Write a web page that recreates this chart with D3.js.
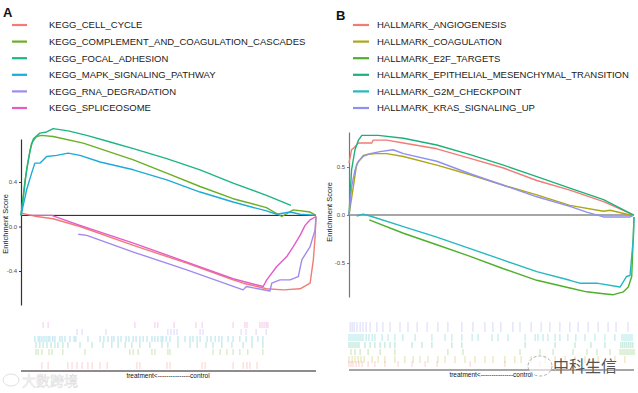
<!DOCTYPE html>
<html><head><meta charset="utf-8">
<script src="https://cdn.jsdelivr.net/npm/d3@7"></script>
<style>body{margin:0;background:#fff}svg{display:block;font-family:"Liberation Sans",Arial,sans-serif}</style>
</head><body>
<svg id="c" width="638" height="393"></svg>
<script>
// ---------------- DATA ----------------
// Panel A (KEGG) — running enrichment score: [rank %, ES]
const keggNames = ["KEGG_CELL_CYCLE","KEGG_COMPLEMENT_AND_COAGULATION_CASCADES","KEGG_FOCAL_ADHESION","KEGG_MAPK_SIGNALING_PATHWAY","KEGG_RNA_DEGRADATION","KEGG_SPLICEOSOME"];
const keggColors = ["#F07C75","#6AAF23","#1DB486","#1EAAD8","#A08AEE","#E45BC9"];
const cellCycleES = [[0,.12],[5.3,.09],[10.9,.07],[20,.0],[38.1,-.17],[56.2,-.33],[71.9,-.48],[75.3,-.51],[83.2,-.56],[88.9,-.57],[94.6,-.56],[98,-.51],[99.1,-.30],[99.7,-.09],[100,.09]];
const complementES = [[0,.10],[1.4,.42],[2.5,.60],[3.6,.75],[5.3,.81],[7,.82],[10.9,.81],[21.1,.75],[38.1,.60],[49.4,.48],[60.7,.36],[71.9,.25],[83.2,.17],[88.4,.09],[92.3,.15],[98,.13],[100,.10]];
const focalES = [[0,.10],[0.8,.27],[1.9,.51],[3.1,.69],[4.2,.79],[6.4,.84],[8.7,.85],[10.9,.88],[16,.86],[22.3,.82],[30.2,.76],[38.1,.70],[49.4,.61],[60.7,.51],[71.9,.39],[83.2,.28],[91.5,.19]];
const mapkES = [[0,.10],[1.9,.33],[3.6,.48],[4.7,.57],[6.4,.57],[8.7,.63],[12.1,.64],[16,.66],[20,.64],[26.8,.58],[38.1,.51],[49.4,.42],[60.7,.31],[71.9,.22],[83.2,.14],[86.7,.11],[91.2,.13],[94.6,.11],[100,.10]];
const rnaES = [[19.4,-.07],[22.3,-.08],[38.1,-.23],[56.2,-.39],[75.3,-.57],[76.4,-.54],[84.4,-.58],[85,-.51],[87.8,-.48],[91.2,-.48],[94,-.45],[95.2,-.30],[98,-.18],[99.7,-.03],[100,.09]];
const spliceES = [[3.1,.10],[10.4,.10],[20,.01],[38.1,-.15],[56.2,-.32],[71.9,-.47],[82.1,-.54],[83.3,-.48],[86.7,-.36],[90.1,-.27],[92.3,-.18],[94.6,-.08],[96.3,.01],[98,.06],[100,.09]];
const keggES = [cellCycleES, complementES, focalES, mapkES, rnaES, spliceES];
// hit positions (rank %)
const cellCycleHits = [7.1,9.2,15.9,17.3,19,20.7,22.7,24.1,26.8,29.2,39.3,40.3,49.5,50.5,61.4,62.4,71.9,75.3,76.6,77.6,80];
const complementHits = [5.1,5.8,7.1,9.5,10.5,14.2,21.7,36.9,38,39.7,44.4,45.4,49.8,50.5,65.1,67.5,69.8,71.9,74.2,76.9,82];
const focalHits = [5.1,6.4,7.5,8.8,10.2,11.5,12.5,14.2,15.9,20,24.1,27.8,30.8,32.9,35.3,37.6,40.3,43.7,47.8,49.8,53.2,57.3,59.7,62.7,65.1,68.1,71.5,75.3,78.3,82];
const mapkHits = [4.7,5.8,6.4,7.1,7.8,8.5,9.2,9.8,10.8,11.5,13.2,13.9,14.9,16.6,18,18.6,22.7,26.8,28.1,29.5,30.8,31.5,32.9,33.9,35.6,36.6,38,39,40.3,41.4,42.7,44.4,45.4,46.4,47.5,48.1,49.2,50.5,53.2,55.6,57.3,58.3,59.7,60.7,63.1,64.4,65.8,67.1,68.1,70.2,71.9,74.2,76.3,78.3,80.3,82];
const rnaHits = [19,20.7,28.8,49.8,50.8,51.9,52.9,60.7,61.7,74.6,76.3,79.7,83.1];
const spliceHits = [7.5,9.2,38.6,45.4,46.4,51.9,59.3,61.4,71.9,75.9,76.6,81,81.7,82.4,83.1,83.7];
const keggHits = [cellCycleHits, complementHits, focalHits, mapkHits, rnaHits, spliceHits];
const keggTicks = [-0.4, 0, 0.4];
const keggBaseline = 0.1;

// Panel B (HALLMARK)
const hallNames = ["HALLMARK_ANGIOGENESIS","HALLMARK_COAGULATION","HALLMARK_E2F_TARGETS","HALLMARK_EPITHELIAL_MESENCHYMAL_TRANSITION","HALLMARK_G2M_CHECKPOINT","HALLMARK_KRAS_SIGNALING_UP"];
const hallColors = ["#F07C75","#AFA51A","#4DAF2A","#1DB07A","#25B8C0","#8F90F0"];
const angioES = [[0,.54],[0.9,.68],[2.1,.71],[3.3,.75],[8,.75],[8.5,.78],[13.2,.78],[19.1,.75],[30.8,.69],[42.5,.59],[54.2,.49],[65.9,.36],[77.5,.26],[89.3,.14],[99.2,.01],[100,0]];
const coagES = [[0,0],[1.5,.29],[2.7,.53],[5,.62],[6.2,.63],[9.1,.64],[13.2,.64],[19.1,.61],[30.8,.52],[42.5,.42],[54.2,.31],[65.9,.21],[77.5,.10],[89.3,.04],[91.6,.05],[98.6,0],[100,0]];
const e2fES = [[7.1,-.05],[19.1,-.19],[30.8,-.31],[42.5,-.43],[54.2,-.56],[65.9,-.68],[77.5,-.76],[83.4,-.80],[89.3,-.82],[92.8,-.83],[96.3,-.80],[98,-.75],[99.2,-.64],[100,-.02]];
const emtES = [[0,0],[0.9,.47],[2.1,.68],[3.3,.78],[4.5,.83],[6.2,.83],[10.3,.83],[19.1,.80],[30.8,.73],[42.5,.63],[54.2,.52],[65.9,.40],[77.5,.28],[89.3,.16],[99.2,.01],[100,0]];
const g2mES = [[2.7,-.01],[5,.01],[7.4,-.01],[19.1,-.12],[30.8,-.23],[42.5,-.35],[54.2,-.47],[65.9,-.59],[77.5,-.68],[81,-.71],[86.9,-.71],[95.1,-.75],[97.4,-.64],[98.6,-.63],[99.8,-.23],[100,-.02]];
const krasES = [[0,0],[0.9,.29],[2.1,.47],[3.3,.56],[5,.61],[7.4,.64],[10.9,.66],[15.5,.68],[19.1,.64],[30.8,.56],[42.5,.43],[54.2,.31],[65.9,.19],[77.5,.09],[83.4,.03],[89.3,-.02],[92.8,-.02],[98.6,-.02],[100,0]];
const hallES = [angioES, coagES, e2fES, emtES, g2mES, krasES];
const angioHits = [0,0.7,1.4,2.5,3.5,4.6,6.7,9.1,12.6,17.2,22.1,26.7,30.9,42.5,54.7,67];
const coagHits = [0,1.1,2.1,3.2,4.2,5.3,8.1,10.2,12.6,16.1,19.6,22.5,24.9,27.7,31.2,33.7,37.2,40.7,44.2,47.7,50.5,54.7,58.2,60.4,63.9,68.8,72.3,75.8,79.3,82.8,87.4,93.3,96.8];
const e2fHits = [0.7,2.1,3.9,6.7,10.9,16.1,34.7,40,60,67,71.6,78.6,83.5,87,91.6,95.1,95.8,96.5,97.2,97.9,98.6,99.3,100];
const emtHits = [0,0.7,1.4,2.1,2.8,3.5,5.6,7.4,9.1,10.9,12.6,14.4,16.1,22.1,25.6,29.1,36.1,39.6,61.8,72.3,79.3,84.9,89.8,95.4,96.1,96.8,97.5,98.2,98.9,99.6];
const g2mHits = [0,0.7,1.4,2.1,2.8,3.5,4.2,4.9,6,7,8.1,9.1,11.6,13.7,16.1,18.9,23.2,29.1,33.7,36.1,39.6,43.2,45.3,50.2,52.3,55.8,61.8,65.3,66.3,68.1,69.8,72.3,74,76.8,79.6,82.8,86.3,89.8,93.3,95.8,96.5,97.2,97.9,98.6,99.3];
const krasHits = [0.4,1.1,1.8,2.8,3.9,4.9,6,7.4,9.8,11.9,14.4,17.9,20.7,23.9,27.4,31.2,34.7,39.6,43.5,47.7,50.5,53.3,57.5,60,63.9,67.4,70.5,74,77.5,80.4,83.9,87.4,90.9,93.7,97.9];
const hallHits = [angioHits, coagHits, e2fHits, emtHits, g2mHits, krasHits];
const hallTicks = [-0.5, 0, 0.5];
const hallBaseline = 0;

const xLabel = "treatment<---------------control";
const yLabel = "Enrichment Score";

// ---------------- DRAW ----------------
const svg = d3.select("#c");

function panel(o) {
  const g = svg.append("g");
  const x = d3.scaleLinear().domain([0,100]).range(o.xr);
  const y = d3.scaleLinear().domain(o.yd).range(o.yr);
  g.append("text").attr("x",o.letter[1]).attr("y",o.letter[2]).attr("font-size",13).attr("font-weight","bold").attr("fill","#111").text(o.letter[0]);
  const lg = g.append("g");
  o.names.forEach((n,i)=>{
    const cy = o.legY + i*16.6;
    lg.append("line").attr("x1",o.legX[0]).attr("x2",o.legX[1]).attr("y1",cy).attr("y2",cy).attr("stroke",o.colors[i]).attr("stroke-width",2.2);
    lg.append("text").attr("x",o.legX[2]).attr("y",cy+3.4).attr("font-size",9.5).attr("fill","#1a1a1a").text(n);
  });
  const ax = g.append("g").attr("transform",`translate(${o.xr[0]},0)`)
    .call(d3.axisLeft(y).tickValues(o.ticks).tickFormat(d=>d.toFixed(1)).tickSize(2).tickSizeOuter(0).tickPadding(2));
  ax.select(".domain").attr("stroke",o.axisColor).attr("stroke-width",1.2);
  ax.selectAll(".tick line").attr("stroke",o.axisColor);
  ax.selectAll(".tick text").attr("font-size",6).attr("fill","#4d4d4d").attr("font-family","Liberation Sans, Arial, sans-serif");
  g.append("text").attr("transform",`translate(${o.yTitle[0]},${o.yTitle[1]}) rotate(-90)`).attr("text-anchor","middle")
    .attr("font-size",7.5).attr("fill","#222").text(yLabel);
  g.append("line").attr("x1",x(0)).attr("x2",x(100)).attr("y1",y(o.base)).attr("y2",y(o.base))
    .attr("stroke",o.baseColor).attr("stroke-width",o.baseW);
  const line = d3.line().x(d=>x(d[0])).y(d=>y(d[1]));
  o.es.forEach((s,i)=>{
    g.append("path").attr("d",line(s)).attr("fill","none").attr("stroke",o.colors[i]).attr("stroke-width",1.4).attr("stroke-linejoin","round");
  });
  o.hits.forEach((h,i)=>{
    const r = o.rows[i];
    g.append("g").selectAll("line").data(h).join("line")
      .attr("x1",d=>x(d)).attr("x2",d=>x(d)).attr("y1",r[0]).attr("y2",r[0]+r[1])
      .attr("stroke",o.colors[i]).attr("stroke-opacity",0.5).attr("stroke-width",0.7);
  });
  g.append("line").attr("x1",x(0)).attr("x2",x(100)).attr("y1",o.bottomY).attr("y2",o.bottomY).attr("stroke",o.baseColor).attr("stroke-width",o.baseW);
  g.append("text").attr("x",o.xLab).attr("y",o.bottomY+7).attr("text-anchor","middle").attr("font-size",6.5).attr("fill","#111").text(xLabel);
  return g;
}

panel({letter:["A",3,17], names:keggNames, colors:keggColors, legX:[12,27,49], legY:25,
  xr:[21,316], yd:[-0.706,0.787], yr:[305,139], ticks:keggTicks, axisColor:"#333", yTitle:[8,224],
  base:keggBaseline, baseColor:"#1a1a1a", baseW:1, es:keggES, hits:keggHits,
  rows:[[362,7],[349,6],[342,6],[336,6],[329,6],[322,6]], bottomY:371, xLab:168});

panel({letter:["B",336,20], names:hallNames, colors:hallColors, legX:[353,369,377], legY:25,
  xr:[349,634], yd:[-0.854,0.865], yr:[297,132], ticks:hallTicks, axisColor:"#777", yTitle:[332,212],
  base:hallBaseline, baseColor:"#888", baseW:1.5, es:hallES, hits:hallHits,
  rows:[[361,6],[356,7],[349,6],[342,6],[334,7],[322,10]], bottomY:370, xLab:491});

// watermarks
svg.append("text").attr("x",22).attr("y",386).attr("font-size",14).attr("font-family","Noto Sans CJK SC")
  .attr("fill","#fff").attr("stroke","#dadada").attr("stroke-width",0.5).text("大数跨境");
svg.append("ellipse").attr("cx",11).attr("cy",380).attr("rx",8).attr("ry",6).attr("fill","none").attr("stroke","#e0e0e0").attr("stroke-width",1);
svg.append("ellipse").attr("cx",540).attr("cy",366).attr("rx",12).attr("ry",10).attr("fill","#fff").attr("fill-opacity",0.6).attr("stroke","#999").attr("stroke-width",0.8).attr("stroke-dasharray","3,2");
svg.append("text").attr("x",553).attr("y",372).attr("font-size",16).attr("font-family","Noto Sans CJK SC")
  .attr("fill","#555").attr("stroke","#fff").attr("stroke-width",0.4).attr("paint-order","stroke").text("中科生信");
</script>
</body></html>
